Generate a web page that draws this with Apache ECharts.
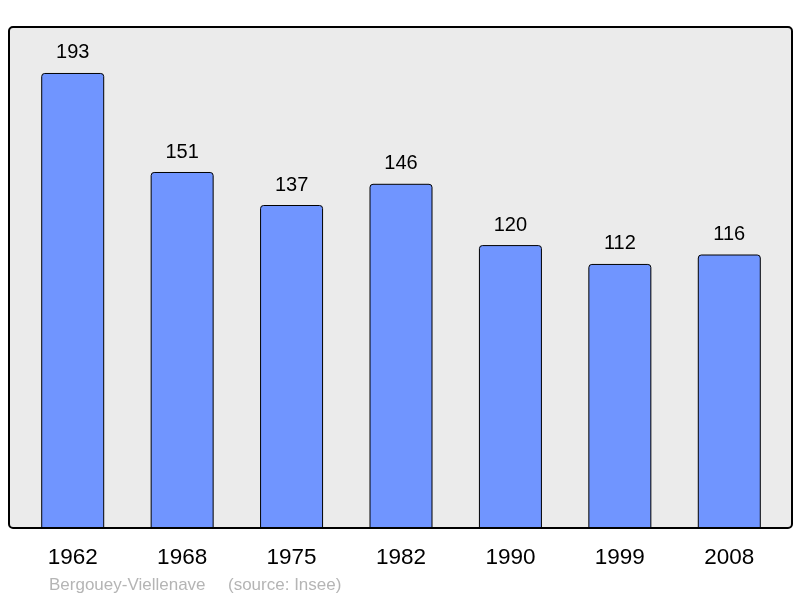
<!DOCTYPE html>
<html>
<head>
<meta charset="utf-8">
<script src="https://cdn.jsdelivr.net/npm/echarts@6/dist/echarts.min.js"></script>
<style>
html,body{margin:0;padding:0;background:#fff;}
#chart{width:800px;height:598px;}
</style>
</head>
<body>
<div id="chart"></div>
<script>
const years = ['1962','1968','1975','1982','1990','1999','2008'];
const population = [193,151,137,146,120,112,116];
const placeName = 'Bergouey-Viellenave';
const sourceText = '(source: Insee)';

const chart = echarts.init(document.getElementById('chart'), null, {renderer:'canvas'});
chart.setOption({
  animation:false,
  backgroundColor:'#ffffff',
  grid:{left:18, right:16, top:27, bottom:70},
  xAxis:{
    type:'category',
    data:years,
    axisLine:{show:false},
    axisTick:{show:false},
    axisLabel:{fontFamily:'Liberation Sans, Arial, sans-serif', fontSize:22.5, color:'#000', margin:18}
  },
  yAxis:{type:'value', min:0, max:212.5, show:false, splitLine:{show:false}},
  graphic:[
    {type:'rect', z:-10, shape:{x:9,y:27,width:783,height:501,r:4}, style:{fill:'#ebebeb', stroke:null}},
    {type:'rect', z:100, shape:{x:9,y:27,width:783,height:501,r:4}, style:{fill:null, stroke:'#000', lineWidth:2}},
    {type:'text', left:49, top:577, style:{text:placeName, fontFamily:'Liberation Sans, Arial, sans-serif', fontSize:17, fill:'#b5b5b5'}},
    {type:'text', left:228, top:577, style:{text:sourceText, fontFamily:'Liberation Sans, Arial, sans-serif', fontSize:17, fill:'#b5b5b5'}}
  ],
  series:[{
    type:'bar',
    data:population,
    barWidth:63,
    itemStyle:{color:'#7095ff', borderColor:'#000', borderWidth:1, borderRadius:[3,3,0,0]},
    label:{show:true, position:'top', distance:10, fontFamily:'Liberation Sans, Arial, sans-serif', fontSize:20, color:'#000'}
  }]
});
</script>
</body>
</html>
